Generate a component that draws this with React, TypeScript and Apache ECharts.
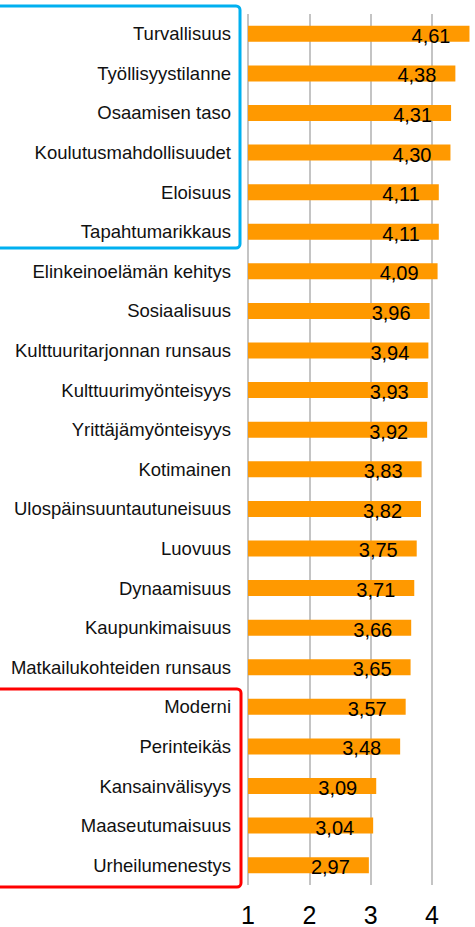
import React, { useEffect, useRef } from "react";
import * as echarts from "echarts";

const categories = [
  "Turvallisuus",
  "Työllisyystilanne",
  "Osaamisen taso",
  "Koulutusmahdollisuudet",
  "Eloisuus",
  "Tapahtumarikkaus",
  "Elinkeinoelämän kehitys",
  "Sosiaalisuus",
  "Kulttuuritarjonnan runsaus",
  "Kulttuurimyönteisyys",
  "Yrittäjämyönteisyys",
  "Kotimainen",
  "Ulospäinsuuntautuneisuus",
  "Luovuus",
  "Dynaamisuus",
  "Kaupunkimaisuus",
  "Matkailukohteiden runsaus",
  "Moderni",
  "Perinteikäs",
  "Kansainvälisyys",
  "Maaseutumaisuus",
  "Urheilumenestys",
];

const values = [
  4.61, 4.38, 4.31, 4.3, 4.11, 4.11, 4.09, 3.96, 3.94, 3.93, 3.92, 3.83, 3.82,
  3.75, 3.71, 3.66, 3.65, 3.57, 3.48, 3.09, 3.04, 2.97,
];

const tickLabels = ["1", "2", "3", "4"];

const FONT = "'Liberation Sans', Arial, sans-serif";

export default function App() {
  const ref = useRef<HTMLDivElement>(null);
  useEffect(() => {
    document.body.style.margin = "0";
    if (!ref.current) return;
    const chart = echarts.init(ref.current, null, { renderer: "svg" });
    chart.setOption({
      animation: false,
      backgroundColor: "#ffffff",
      grid: { left: 248, right: 0, top: 14, height: 871, containLabel: false },
      xAxis: {
        type: "value",
        min: 1,
        max: 4.7,
        interval: 1,
        axisLine: { show: false },
        axisTick: { show: false },
        axisLabel: {
          showMaxLabel: false,
          fontSize: 25,
          color: "#000",
          fontFamily: FONT,
          margin: 17,
          formatter: (v: number) => {
            const s = String(Math.round(v));
            return tickLabels.includes(s) && Math.abs(v - Math.round(v)) < 1e-6 ? s : "";
          },
        },
        splitLine: {
          show: true,
          showMaxLine: false,
          lineStyle: { color: "#C4C4C4", width: 2 },
        },
      },
      yAxis: {
        type: "category",
        data: categories,
        inverse: true,
        axisLine: { show: false },
        axisTick: { show: false },
        axisLabel: {
          fontSize: 18.5,
          color: "#111",
          fontFamily: FONT,
          margin: 17,
        },
      },
      series: [
        {
          type: "bar",
          data: values,
          barWidth: 16,
          itemStyle: { color: "#FF9900" },
          label: {
            show: true,
            position: "insideRight",
            distance: 19,
            offset: [0, 2],
            fontSize: 20,
            color: "#000",
            fontFamily: FONT,
            formatter: (p: any) => p.value.toFixed(2).replace(".", ","),
          },
        },
      ],
      graphic: [
        {
          type: "rect",
          shape: { x: -10, y: 6, width: 250, height: 242, r: 4 },
          style: { fill: "none", stroke: "#00B0F0", lineWidth: 3 },
          z: 100,
        },
        {
          type: "rect",
          shape: { x: -10, y: 689, width: 251, height: 198, r: 4 },
          style: { fill: "none", stroke: "#FF0000", lineWidth: 3 },
          z: 100,
        },
      ],
    });
    return () => chart.dispose();
  }, []);
  return <div ref={ref} style={{ width: 475, height: 927 }} />;
}
